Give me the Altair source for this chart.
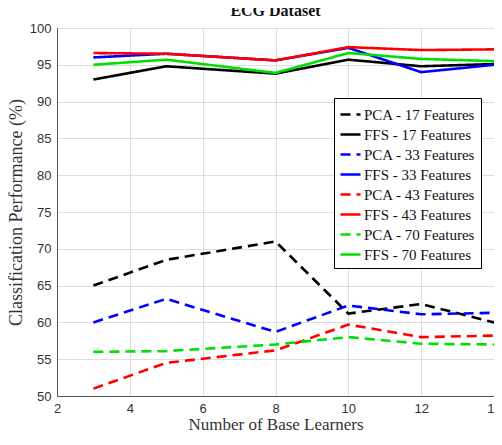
import altair as alt
import pandas as pd

learners = [3, 5, 8, 10, 12, 14]
series_names = [
    "PCA - 17 Features", "FFS - 17 Features",
    "PCA - 33 Features", "FFS - 33 Features",
    "PCA - 43 Features", "FFS - 43 Features",
    "PCA - 70 Features", "FFS - 70 Features",
]
pca_17 = [65.0, 68.5, 71.0, 61.2, 62.5, 60.0]
ffs_17 = [93.0, 94.8, 93.8, 95.7, 94.8, 95.1]
pca_33 = [60.0, 63.2, 58.7, 62.3, 61.1, 61.3]
ffs_33 = [96.0, 96.5, 95.6, 97.3, 94.0, 95.0]
pca_43 = [51.0, 54.5, 56.2, 59.7, 58.0, 58.2]
ffs_43 = [96.6, 96.5, 95.6, 97.4, 97.0, 97.1]
pca_70 = [56.0, 56.1, 57.0, 58.0, 57.1, 57.0]
ffs_70 = [95.0, 95.7, 93.9, 96.6, 95.8, 95.5]

colors = ["#000000", "#000000", "#0000ff", "#0000ff",
          "#ff0000", "#ff0000", "#00e000", "#00e000"]
dashes = [[10, 6], [1, 0], [10, 6], [1, 0], [10, 6], [1, 0], [10, 6], [1, 0]]

all_vals = [pca_17, ffs_17, pca_33, ffs_33, pca_43, ffs_43, pca_70, ffs_70]
rows = []
for name, vals in zip(series_names, all_vals):
    for x, v in zip(learners, vals):
        rows.append({"x": x, "y": v, "series": name})
df = pd.DataFrame(rows)

serif = "Liberation Serif"
sans = "Liberation Sans"

chart = alt.Chart(df).mark_line(strokeWidth=2.6).encode(
    x=alt.X("x:Q", scale=alt.Scale(domain=[2, 14], nice=False),
            axis=alt.Axis(title="Number of Base Learners", values=[2, 4, 6, 8, 10, 12, 14],
                          titleFont=serif, titleFontSize=17, titleFontWeight="normal",
                          titleColor="#333333", labelFont=sans, labelFontSize=13,
                          labelColor="#333333", titlePadding=1, tickSize=0,
                          labelFlush=False,
                          domainColor="#555555", gridColor="#dddddd", labelPadding=6)),
    y=alt.Y("y:Q", scale=alt.Scale(domain=[50, 100], nice=False),
            axis=alt.Axis(title="Classification Performance (%)", values=list(range(50, 101, 5)),
                          titleFont=serif, titleFontSize=18, titleFontWeight="normal",
                          titleColor="#333333", labelFont=sans, labelFontSize=13,
                          labelColor="#333333", titlePadding=4, tickSize=0,
                          domainColor="#555555", gridColor="#dddddd", labelPadding=6)),
    color=alt.Color("series:N", sort=series_names,
                    scale=alt.Scale(domain=series_names, range=colors),
                    legend=alt.Legend(title=None, orient="none", legendX=277, legendY=70,
                                      symbolType="stroke", symbolSize=400, symbolStrokeWidth=2.6,
                                      labelFont=serif, labelFontSize=15, labelColor="#111111",
                                      rowPadding=0, padding=5, strokeColor="#000000",
                                      fillColor="#ffffff", labelOffset=2, labelLimit=200)),
    strokeDash=alt.StrokeDash("series:N", sort=series_names,
                              scale=alt.Scale(domain=series_names, range=dashes),
                              legend=None),
).properties(
    width=437, height=368,
    title=alt.TitleParams("ECG Dataset", font=serif, fontSize=16, fontWeight="bold",
                          color="#111111", offset=3),
    padding={"left": 49, "top": 20, "right": 0, "bottom": 36},
    autosize=alt.AutoSizeParams(type="none"),
).configure_view(stroke="#555555", strokeWidth=1)

chart.save("out.html", embed_options={"renderer": "svg", "actions": False})
